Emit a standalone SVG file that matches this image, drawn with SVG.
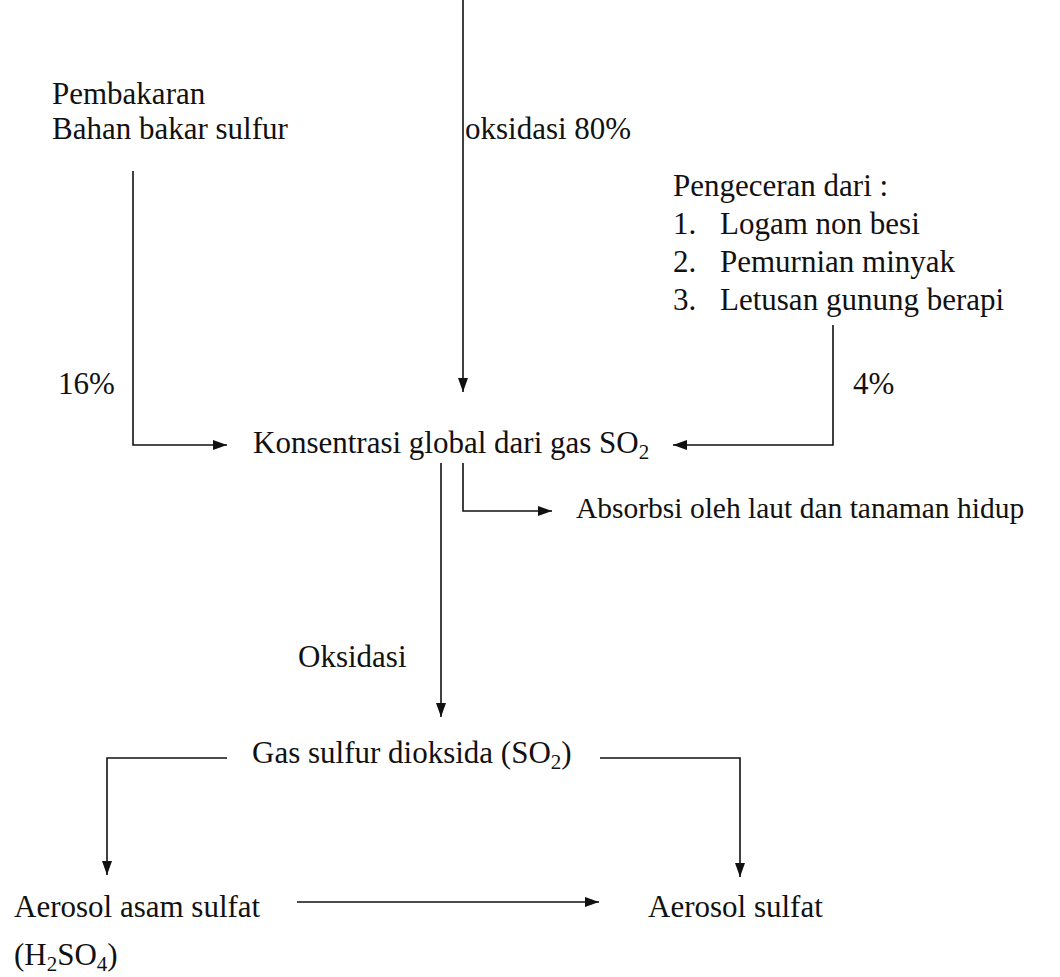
<svg xmlns="http://www.w3.org/2000/svg" width="1060" height="977" viewBox="0 0 1060 977">
<style>
text{font-family:"Liberation Serif","Times New Roman",serif;font-size:31px;fill:#111}
.c{fill:none;stroke:#111;stroke-width:1.6}
</style>
<defs>
<marker id="ah" viewBox="0 0 14 10" refX="14" refY="5" markerWidth="14" markerHeight="10" orient="auto" markerUnits="userSpaceOnUse"><path d="M0,0 L14,5 L0,10 z" fill="#111"/></marker>
</defs>
<rect width="1060" height="977" fill="#fff"/>
<g id="connectors">
<path class="c" d="M463,0 V392" marker-end="url(#ah)"/>
<path class="c" d="M133,171 V445 H227" marker-end="url(#ah)"/>
<path class="c" d="M833,325 V445 H673" marker-end="url(#ah)"/>
<path class="c" d="M441,463 V717" marker-end="url(#ah)"/>
<path class="c" d="M463,463 V511 H552" marker-end="url(#ah)"/>
<path class="c" d="M227,758 H107 V875" marker-end="url(#ah)"/>
<path class="c" d="M600,758 H740 V877" marker-end="url(#ah)"/>
<path class="c" d="M297,902 H599" marker-end="url(#ah)"/>
</g>
<g id="pembakaran"><text x="52" y="104">Pembakaran</text><text x="52" y="139">Bahan bakar sulfur</text></g>
<g id="oksidasi80"><text x="465" y="139">oksidasi 80%</text></g>
<g id="pengeceran">
<text x="673" y="196">Pengeceran dari :</text>
<text x="673" y="234">1.</text><text x="720" y="234">Logam non besi</text>
<text x="673" y="272">2.</text><text x="720" y="272">Pemurnian minyak</text>
<text x="673" y="310">3.</text><text x="720" y="310">Letusan gunung berapi</text>
</g>
<g id="p16"><text x="58" y="394">16%</text></g>
<g id="p4"><text x="853" y="394">4%</text></g>
<g id="konsentrasi"><text x="253" y="453">Konsentrasi global dari gas SO<tspan font-size="21" dy="6">2</tspan></text></g>
<g id="absorbsi"><text x="576" y="518" style="font-size:29.5px">Absorbsi oleh laut dan tanaman hidup</text></g>
<g id="oksidasi"><text x="298" y="667">Oksidasi</text></g>
<g id="gassulfur"><text x="252" y="763">Gas sulfur dioksida (SO<tspan font-size="21" dy="6">2</tspan><tspan dy="-6">)</tspan></text></g>
<g id="asam"><text x="14" y="917">Aerosol asam sulfat</text><text x="14" y="965">(H<tspan font-size="21" dy="6">2</tspan><tspan dy="-6">SO</tspan><tspan font-size="21" dy="6">4</tspan><tspan dy="-6">)</tspan></text></g>
<g id="sulfat"><text x="648" y="917">Aerosol sulfat</text></g>
</svg>
